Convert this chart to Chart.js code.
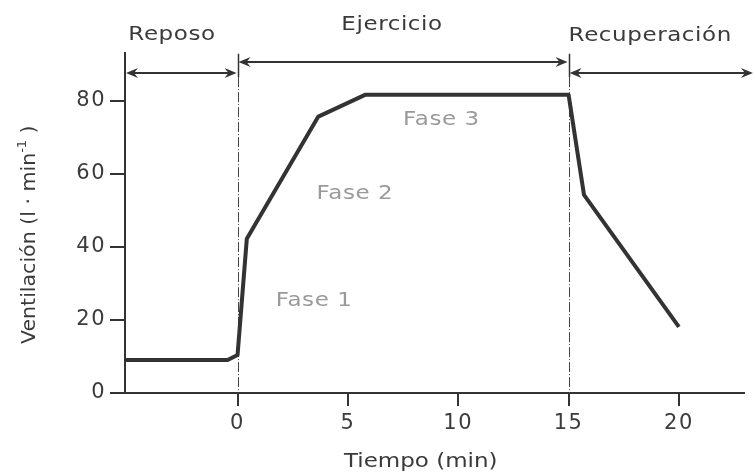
<!DOCTYPE html>
<html>
<head>
<meta charset="utf-8">
<script src="https://cdn.jsdelivr.net/npm/chart.js@4.4.1/dist/chart.umd.min.js"></script>
<style>
  html, body { margin: 0; padding: 0; background: #fff; }
  canvas { display: block; }
</style>
</head>
<body>
<canvas id="chart" width="755" height="473"></canvas>
<script>
// Ventilation curve (min, l/min)
const timeMin = [-5.1, -0.45, 0, 0.42, 3.66, 5.8, 15, 15.7, 20];
const ventilation = [9, 9, 10.4, 42.2, 75.6, 81.6, 81.6, 54.2, 18.1];

const xTicks = [0, 5, 10, 15, 20];
const yTicks = [0, 20, 40, 60, 80];

// periods across the top
const periodNames = ["Reposo", "Ejercicio", "Recuperación"];
const periodFrom = [-5.1, 0, 15];
const periodTo = [0, 15, 23.4];

const phaseNames = ["Fase 1", "Fase 2", "Fase 3"];

// annotation placement, in data units
const periodArrowY = [87.4, 90.6, 87.4];
const periodLabelX = [-2.97, 7.0, 18.7];
const periodLabelY = [98, 100.7, 97.7];
const phaseLabelX = [3.47, 5.32, 9.24];
const phaseLabelY = [25.1, 54.6, 74.8];
const markerTop = 92.8;
const markerBottom = 86.4;

const FONT = "'DejaVu Sans', Verdana, sans-serif";
const INK = "#333";

function arrowHead(ctx, x, y, dir) {
  // dir = 1 points left, -1 points right
  ctx.beginPath();
  ctx.moveTo(x, y);
  ctx.lineTo(x + dir * 12, y - 5);
  ctx.lineTo(x + dir * 8, y);
  ctx.lineTo(x + dir * 12, y + 5);
  ctx.closePath();
  ctx.fill();
}

// text slightly stretched sideways like the original typeface
function label(ctx, str, px, py, size, color) {
  ctx.save();
  ctx.translate(px, py);
  ctx.scale(1.15, 1);
  ctx.font = size + "px " + FONT;
  ctx.fillStyle = color;
  ctx.textAlign = "center";
  ctx.textBaseline = "middle";
  ctx.fillText(str, 0, 0);
  ctx.restore();
}

const overlay = {
  id: "overlay",
  beforeDraw(chart) {
    chart.ctx.letterSpacing = "1.5px";
  },
  beforeDatasetsDraw(chart) {
    const { ctx, scales: { x, y } } = chart;
    ctx.save();

    // dash-dot guides at start/end of exercise
    ctx.strokeStyle = "#444";
    ctx.lineWidth = 1;
    ctx.setLineDash([10, 2, 1, 2]);
    [periodFrom[1], periodFrom[2]].forEach((v) => {
      const px = Math.round(x.getPixelForValue(v)) + 0.5;
      ctx.beginPath();
      ctx.moveTo(px, y.getPixelForValue(markerBottom));
      ctx.lineTo(px, y.getPixelForValue(0));
      ctx.stroke();
    });
    ctx.setLineDash([]);

    // solid marker bars
    ctx.strokeStyle = INK;
    ctx.lineWidth = 1.5;
    [periodFrom[1], periodFrom[2]].forEach((v) => {
      const px = Math.round(x.getPixelForValue(v)) + 0.5;
      ctx.beginPath();
      ctx.moveTo(px, y.getPixelForValue(markerTop));
      ctx.lineTo(px, y.getPixelForValue(markerBottom));
      ctx.stroke();
    });

    // double arrows
    ctx.fillStyle = INK;
    ctx.lineWidth = 2;
    periodNames.forEach((_, i) => {
      const x0 = x.getPixelForValue(periodFrom[i]) + 1;
      const x1 = x.getPixelForValue(periodTo[i]) - 1;
      const py = Math.round(y.getPixelForValue(periodArrowY[i]));
      ctx.beginPath();
      ctx.moveTo(x0 + 6, py);
      ctx.lineTo(x1 - 6, py);
      ctx.stroke();
      arrowHead(ctx, x0, py, 1);
      arrowHead(ctx, x1, py, -1);
    });
    ctx.restore();
  },
  afterDraw(chart) {
    const { ctx, scales: { x, y } } = chart;
    ctx.save();
    ctx.letterSpacing = "0.5px";

    periodNames.forEach((name, i) => {
      label(ctx, name, x.getPixelForValue(periodLabelX[i]), y.getPixelForValue(periodLabelY[i]), 20, "#3a3a3a");
    });
    phaseNames.forEach((name, i) => {
      label(ctx, name, x.getPixelForValue(phaseLabelX[i]), y.getPixelForValue(phaseLabelY[i]), 20, "#9a9a9a");
    });

    // x title
    ctx.letterSpacing = "0px";
    label(ctx, "Tiempo (min)", x.getPixelForValue(8.3), y.getPixelForValue(-18.8), 20, "#3a3a3a");

    // y title, rotated, with superscript
    ctx.translate(x.getPixelForValue(-9.4), y.getPixelForValue(43.3));
    ctx.rotate(-Math.PI / 2);
    ctx.scale(1.08, 1);
    ctx.textBaseline = "middle";
    ctx.textAlign = "left";
    ctx.fillStyle = "#3a3a3a";
    const main = "Ventilación (l · min";
    const sup = "-1";
    const tail = " )";
    ctx.font = "19px " + FONT;
    const wMain = ctx.measureText(main).width;
    const wTail = ctx.measureText(tail).width;
    ctx.font = "12px " + FONT;
    const wSup = ctx.measureText(sup).width;
    let cx = -(wMain + wSup + wTail) / 2;
    ctx.font = "19px " + FONT;
    ctx.fillText(main, cx, 0);
    cx += wMain;
    ctx.font = "12px " + FONT;
    ctx.fillText(sup, cx, -7);
    cx += wSup;
    ctx.font = "19px " + FONT;
    ctx.fillText(tail, cx, 0);
    ctx.restore();
  }
};

new Chart(document.getElementById("chart"), {
  type: "line",
  data: {
    datasets: [{
      data: timeMin.map((t, i) => ({ x: t, y: ventilation[i] })),
      borderColor: INK,
      borderWidth: 4,
      borderJoinStyle: "round",
      pointRadius: 0,
      tension: 0,
      fill: false
    }]
  },
  options: {
    responsive: false,
    animation: false,
    devicePixelRatio: 1,
    layout: { padding: { top: 53, right: 11, left: 0, bottom: 0 } },
    plugins: { legend: { display: false }, tooltip: { enabled: false } },
    scales: {
      x: {
        type: "linear",
        min: -5.1,
        max: 22.95,
        afterBuildTicks: (s) => { s.ticks = xTicks.map((v) => ({ value: v })); },
        afterFit: (s) => { s.height = 80; },
        grid: { drawOnChartArea: false, drawTicks: true, tickLength: 13, color: INK, lineWidth: 2 },
        border: { display: true, color: INK, width: 2 },
        ticks: { font: { family: FONT, size: 21 }, color: "#3c3c3c", padding: 5, maxRotation: 0 }
      },
      y: {
        min: 0,
        max: 93,
        afterBuildTicks: (s) => { s.ticks = yTicks.map((v) => ({ value: v })); },
        afterFit: (s) => { s.width = 125; },
        grid: { drawOnChartArea: false, drawTicks: true, tickLength: 15, color: INK, lineWidth: 2 },
        border: { display: true, color: INK, width: 2 },
        ticks: { font: { family: FONT, size: 21 }, color: "#3c3c3c", padding: 4 }
      }
    }
  },
  plugins: [overlay]
});
</script>
</body>
</html>
